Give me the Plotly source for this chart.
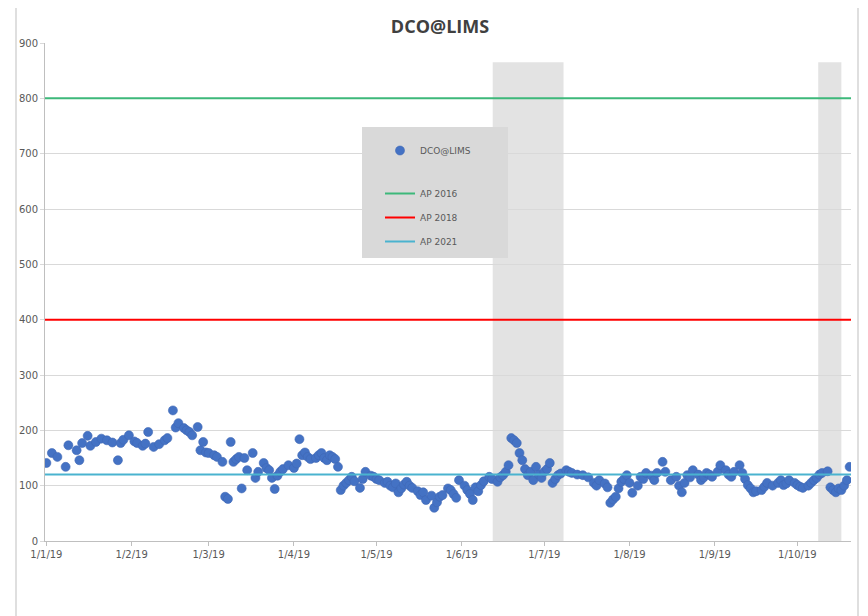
import pandas as pd
import plotly.graph_objects as go

# Day offsets from 1 Jan 2019 and DCO@LIMS values
day = [0, 2, 4, 7, 8, 11, 12, 13, 15, 16, 18, 20, 22, 24, 26, 27, 28, 30, 32, 33,
       35, 36, 37, 39, 41, 43, 44, 46, 47, 48, 50, 51, 52, 53, 55, 56, 57, 58, 59, 61,
       62, 64, 65, 66, 67, 68, 69, 70, 71, 72, 73, 75, 76, 77, 79, 80, 81, 82, 83, 84,
       85, 86, 88, 90, 91, 92, 93, 94, 95, 96, 98, 99, 100, 101, 102, 103, 104, 105, 106, 107,
       108, 109, 110, 111, 112, 114, 115, 116, 118, 119, 120, 121, 123, 124, 125, 126, 127, 128, 129, 130,
       131, 132, 133, 135, 136, 137, 138, 140, 141, 142, 143, 144, 146, 147, 148, 149, 150, 152, 153, 154,
       155, 156, 157, 158, 159, 161, 162, 164, 165, 166, 167, 168, 169, 170, 171, 172, 173, 174, 175, 176,
       177, 178, 179, 180, 181, 182, 183, 184, 185, 186, 187, 189, 190, 191, 193, 195, 197, 199, 200, 201,
       203, 204, 205, 206, 207, 208, 209, 210, 211, 212, 213, 215, 216, 217, 218, 220, 221, 222, 224, 225,
       227, 229, 230, 231, 232, 233, 234, 235, 237, 238, 239, 240, 241, 242, 244, 245, 247, 248, 249, 250,
       252, 253, 254, 255, 256, 257, 258, 260, 261, 262, 264, 266, 267, 268, 269, 270, 272, 273, 274, 275,
       277, 278, 279, 280, 281, 282, 284, 285, 286, 287, 288, 289, 290, 291, 292]
dco = [141, 159, 152, 134, 173, 164, 146, 177, 190, 172, 179, 185, 182, 178, 146, 177, 183, 191, 180, 177,
       172, 176, 197, 170, 175, 182, 186, 236, 205, 213, 204, 200, 197, 191, 206, 164, 179, 160, 159, 155,
       152, 143, 80, 76, 179, 143, 148, 152, 95, 150, 128, 159, 114, 125, 141, 132, 128, 114, 94, 118,
       125, 130, 137, 132, 140, 184, 155, 160, 152, 148, 150, 155, 159, 150, 146, 155, 152, 148, 134, 92,
       100, 105, 110, 116, 108, 96, 112, 125, 118, 116, 112, 110, 105, 107, 100, 97, 104, 88, 95, 102,
       107, 100, 96, 90, 83, 88, 74, 82, 60, 70, 80, 83, 95, 92, 85, 78, 110, 100, 92, 85,
       74, 97, 90, 101, 108, 116, 112, 107, 115, 119, 125, 137, 186, 182, 177, 159, 146, 130, 119, 125,
       110, 134, 120, 114, 125, 130, 141, 105, 112, 119, 122, 128, 125, 123, 120, 119, 115, 105, 100, 110,
       104, 97, 69, 75, 80, 95, 107, 112, 119, 105, 87, 100, 116, 112, 123, 118, 110, 123, 143, 125,
       110, 116, 100, 88, 105, 119, 115, 128, 120, 110, 115, 123, 120, 116, 125, 137, 128, 120, 116, 125,
       137, 123, 112, 101, 95, 88, 90, 92, 98, 105, 100, 105, 110, 101, 104, 110, 105, 101, 98, 96,
       100, 105, 110, 114, 120, 123, 126, 97, 92, 88, 95, 92, 100, 110, 134]

ap_names = ["AP 2016", "AP 2018", "AP 2021"]
ap_levels = [800, 400, 120]
ap_colors = ["#3DB87A", "#FF0000", "#4AB3CF"]

tick_dates = ["2019-01-01", "2019-02-01", "2019-03-01", "2019-04-01", "2019-05-01",
              "2019-06-01", "2019-07-01", "2019-08-01", "2019-09-01", "2019-10-01"]
tick_text = ["1/1/19", "1/2/19", "1/3/19", "1/4/19", "1/5/19",
             "1/6/19", "1/7/19", "1/8/19", "1/9/19", "1/10/19"]
y_ticks = [0, 100, 200, 300, 400, 500, 600, 700, 800, 900]

shade_periods = [("2019-06-12 06:00", "2019-07-08"), ("2019-10-08 14:00", "2019-10-17")]
shade_top = 865

x_range = ["2018-12-31 12:00", "2019-10-20 12:00"]

dates = pd.Timestamp("2019-01-01") + pd.to_timedelta(day, unit="D")

# page offset of the figure inside the browser (body margin)
OFF = 8
PL, PR, PT, PB = 45, 851, 43, 541   # plot area in screen pixels
PW, PH = PR - PL, PB - PT


def px(x):
    return (x - PL) / PW


def py(y):
    return (PB - y) / PH


fig = go.Figure()
fig.add_trace(go.Scatter(
    x=dates, y=dco, mode="markers", name="DCO@LIMS",
    marker=dict(color="#4472C4", size=9, line=dict(color="#3F68B5", width=0.6)),
    legendgroup="a",
))
for i, (n, v, c) in enumerate(zip(ap_names, ap_levels, ap_colors)):
    kw = {}
    if i == 0:
        kw["legendgrouptitle"] = dict(text=" ", font=dict(size=7))
    fig.add_trace(go.Scatter(
        x=x_range, y=[v, v], mode="lines", name=n,
        line=dict(color=c, width=2), legendgroup="g%d" % i, **kw,
    ))

for s, e in shade_periods:
    fig.add_shape(type="rect", xref="x", yref="y", x0=s, x1=e, y0=0, y1=shade_top,
                  fillcolor="#E3E3E3", line_width=0, layer="below")

# legend box
fig.add_shape(type="rect", xref="paper", yref="paper",
              x0=px(362), x1=px(508), y0=py(258), y1=py(127),
              fillcolor="#D9D9D9", line_width=0, layer="above")
# outer chart frame
fig.add_shape(type="rect", xref="paper", yref="paper",
              x0=px(16), x1=px(858), y0=-0.2, y1=py(4),
              fillcolor="rgba(0,0,0,0)", line=dict(color="#BFBFBF", width=1), layer="above")

W, H = 868, 616
fig.update_layout(
    width=W, height=H,
    margin=dict(l=PL - OFF, r=W - (PR - OFF), t=PT - OFF, b=H - (PB - OFF), autoexpand=False),
    paper_bgcolor="white", plot_bgcolor="white",
    title=dict(text="<b>DCO@LIMS</b>", x=px(440), xref="paper", xanchor="center",
               y=1 - (27 - OFF) / H, yanchor="middle",
               font=dict(family="Open Sans", size=18, color="#404040")),
    font=dict(family="DejaVu Sans", size=10, color="#595959"),
    showlegend=True,
    legend=dict(x=px(380), y=py(136), xanchor="left", yanchor="top",
                bgcolor="rgba(0,0,0,0)",
                font=dict(family="DejaVu Sans", size=9, color="#595959"),
                traceorder="grouped", tracegroupgap=5, itemwidth=30),
    xaxis=dict(type="date", range=x_range, tickvals=tick_dates, ticktext=tick_text,
               showgrid=False, showline=True, linecolor="#BFBFBF", linewidth=1,
               ticks="outside", ticklen=4, tickcolor="#BFBFBF", zeroline=False,
               tickfont=dict(family="DejaVu Sans", size=10, color="#595959")),
    yaxis=dict(range=[0, 900], tickvals=y_ticks,
               showgrid=True, gridcolor="#D9D9D9", gridwidth=1,
               showline=True, linecolor="#BFBFBF", linewidth=1,
               ticks="outside", ticklen=4, tickcolor="#D9D9D9", zeroline=False,
               tickfont=dict(family="DejaVu Sans", size=10, color="#595959")),
)

fig.write_html("out.html")
